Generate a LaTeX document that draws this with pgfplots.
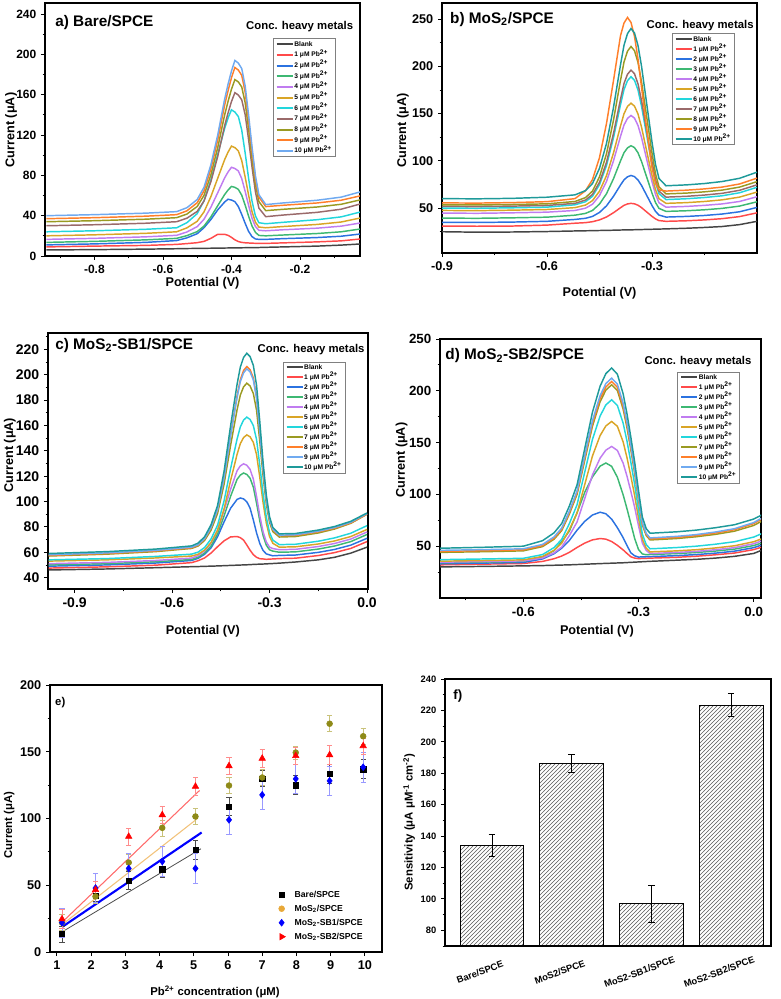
\documentclass[border=0pt]{standalone}
\usepackage{fontspec}
\setmainfont{Liberation Sans}
\usepackage{pgfplots}
\usepackage{pgfplotstable}
\pgfplotsset{compat=1.18}
\usetikzlibrary{patterns}

\newcommand\fs[1]{\fontsize{#1}{#1}\selectfont\bfseries}
\newcommand\pbe[1]{\addlegendentry{#1 μM Pb\textsuperscript{2+}}}

% trace colours
\definecolor{cBl}{HTML}{454545}
\definecolor{c1}{HTML}{FF4A4A}
\definecolor{c2}{HTML}{2B72E0}
\definecolor{c3}{HTML}{3DB873}
\definecolor{c4}{HTML}{C07CF0}
\definecolor{c5}{HTML}{D9A526}
\definecolor{c6}{HTML}{22D6DC}
\definecolor{cBr}{HTML}{9A6A6A}
\definecolor{cOl}{HTML}{9A9A22}
\definecolor{cOr}{HTML}{FF7F2A}
\definecolor{cLb}{HTML}{70AAF0}
\definecolor{cTe}{HTML}{1E9A9A}
% calibration colours
\definecolor{eOl}{HTML}{8E8A18}
\definecolor{eOlE}{HTML}{C9C27A}
\definecolor{eGold}{HTML}{E8A838}
\definecolor{eGoldLine}{HTML}{F2C27A}
\definecolor{eRedLine}{HTML}{FF6B6B}

% DPV traces: Bare/SPCE
\pgfplotstableread{
x bl c1 c2 c3 c4 c5 c6 c7 c8 c9 c10
-0.94 6 9 11 13.5 16.5 20 24 30 34 37 40
-0.80 6.3 9.8 12 14.5 17.5 21 25 31 35 38 41
-0.65 6.8 10.5 13.5 16 19 22.5 26.5 32.5 36.5 39.5 42.5
-0.56 7.2 11.5 15.3 17.5 20.5 24 28 34 38 41 44
-0.53 7.4 12.3 18 20.2 23.8 27.9 33 37.5 41.6 44.8 47.9
-0.50 7.5 13.2 22.1 24.2 29.1 34.4 42 44.2 49.1 52.8 56
-0.48 7.6 14.5 28.1 29.7 36.5 43.8 54.8 54.6 60.2 64.7 68.2
-0.46 7.7 17.5 36.2 38.8 48.4 58.9 75.6 73.7 80.6 86.4 90.5
-0.44 7.8 21.5 45.8 49.9 62.8 77.2 101 98.9 107.6 115.2 120.1
-0.42 7.9 21.5 53.5 60.9 77.4 95.5 126.4 129.1 139.8 149.5 155.4
-0.41 7.95 20.5 56.3 65.4 83.3 103 136.8 141.8 153.3 163.8 170.3
-0.40 8.0 18.5 55.5 69.0 88.0 109 145 153.2 165.4 176.8 183.5
-0.39 8.05 16 53.9 68.1 86.8 107.5 142.8 162 175 187 194
-0.38 8.1 14.3 49.1 66.1 84.4 104.3 138.4 159.7 172.7 184.5 191.4
-0.37 8.15 13.5 41.2 60.3 76.8 94.6 124.8 154.9 167.7 179.2 185.9
-0.36 8.2 13.1 32.4 50.4 64.1 78.3 102.1 140.2 152 162.6 168.7
-0.35 8.25 12.9 24.4 39.5 50.2 60.4 77.1 115.5 125.9 134.8 139.9
-0.34 8.3 12.7 19.2 29.7 37.4 44 54.4 88.3 97.1 104.2 108.3
-0.33 8.35 12.6 16.9 23.4 29.2 33.5 39.7 63.5 70.9 76.5 79.5
-0.32 8.4 12.5 16.5 20.4 25.5 28.7 33 47.5 54 58.5 60.9
-0.30 8.6 12.5 16.5 20 25 28 32 39 45 49 51
-0.25 9 13 17.2 20.8 26 29.2 33.4 40.6 46.3 50.3 52.6
-0.15 9.8 14 18.3 22.3 27.6 31.3 36 43.3 48.6 52.6 55.3
-0.08 10.8 15 19.6 24 29.6 33.7 38.8 46.4 51.3 55.3 58.4
-0.02 12 17 22 27 33 38 44 52 56 60 64
}\tabA

% DPV traces: MoS2/SPCE
\pgfplotstableread{
x bl c1 c2 c3 c4 c5 c6 c7 c8 c9 c10
-0.90 25 31 35 39.4 44.7 47.5 50 51.8 53.5 55.5 60
-0.80 24.5 30.8 34.8 39.2 44.5 47.3 49.8 51.6 53.3 55.3 59.8
-0.70 24.7 31 35.2 39.7 45 47.8 50.3 52.1 53.8 55.8 60.3
-0.60 25.2 32 36 40.4 45.7 48.5 51 52.8 54.5 56.8 61.5
-0.52 25.8 34 38 42.5 47.5 50.5 53.5 55 57 60 64
-0.49 26 34.6 39.2 44.4 49.9 53.2 56.7 58.5 61.1 68.4 68.5
-0.47 26.1 35.6 41.2 47.5 54.1 57.9 62.5 64.5 68 80.2 76
-0.45 26.3 37.5 45.4 54.3 63.2 67.9 74.8 77.3 83.1 103.4 92.1
-0.43 26.4 40.6 52.4 65.2 78.2 84.4 95 98.4 107.5 139.5 118.4
-0.41 26.6 45.1 62.5 81.1 100.1 108.4 124.5 129 143.1 185 156.5
-0.39 26.8 50.4 74.4 99.9 125.9 136.8 159.3 165.1 185.1 232.4 201.5
-0.38 26.9 52.9 79.9 108.6 137.9 149.8 175.4 181.8 204.5 245.8 222.3
-0.37 27 54.4 83.1 113.7 144.9 157.6 184.8 191.6 216 251.7 234.6
-0.36 27 55 84.5 116 148 161 189 196 221 246.4 240
-0.35 27.1 54.5 83.3 114 145.2 157.9 185.2 192.1 216.5 231.7 235.2
-0.34 27.2 53 79.7 108.5 137.4 149.5 174.9 181.4 204.1 207.7 222
-0.33 27.3 50.5 74 99.4 124.8 135.7 157.9 163.8 183.7 178.1 200.3
-0.32 27.4 47.4 66.9 88.2 109.2 118.6 137 142.2 158.7 148.5 173.5
-0.31 27.5 44.3 59.8 77 93.6 101.5 116.1 120.6 133.5 118.9 146.6
-0.30 27.6 41.2 52.7 65.8 78 84.5 95.2 98.9 108.3 93 119.8
-0.29 27.7 38.6 46.5 55.9 64.4 69.6 76.9 80 86.4 76.5 96.3
-0.28 27.8 36.8 42.6 49.7 55.6 60 65.2 67.9 72.4 69.3 81.3
-0.26 28 36 40.5 46.5 51 55 59 61.6 65 68 73.6
-0.20 28.7 36.6 41.2 47.2 51.8 55.8 59.9 62.5 65.9 69 74.6
-0.15 29.5 37.5 42.2 48.2 52.9 57 61.2 63.8 67.2 70.3 76
-0.10 30.5 38.8 43.7 49.7 54.4 58.7 63 65.6 69 72.2 78.1
-0.05 32.5 41 46.1 52.1 57 61.6 66.2 68.8 72.2 75.5 81.5
0.00 36 45 50.7 56.7 62 67 72 74.6 78 81.7 88
}\tabB

% DPV traces: MoS2-SB1/SPCE
\pgfplotstableread{
x bl c1 c2 c3 c4 c5 c6 c7 c8 c9 c10
-0.98 46 47.5 49 50 51 53 54 57 57.5 58 59
-0.80 46.8 48.5 50 51 52 54 55 58.5 59 59.5 60.5
-0.65 47.8 49.8 51.5 52.5 53.5 55.5 56.7 60.5 61 61.5 62.5
-0.54 48.6 51.8 53.5 54.3 55.4 57 58.5 63 63.5 64 65
-0.52 48.7 53.3 55.2 56 57.3 58.4 60.1 64.9 65.6 66 67.2
-0.50 48.9 55.5 58.4 59.4 61 61.7 63.7 69.3 70.4 70.8 72.2
-0.48 49 59.4 63.5 65 67.2 67.7 70.5 77.5 79.3 79.6 81.7
-0.46 49.2 64.4 72.3 74.6 77.6 77.3 81.4 90.6 93.7 93.7 97
-0.44 49.4 69 84 88.7 92.9 94.3 100.6 113.7 119.1 118.7 124
-0.42 49.6 72.1 94.7 104.1 109.7 116.6 125.9 144.3 152.6 151.7 159.7
-0.40 49.8 72.4 101.7 117.5 124.3 137.2 149.3 172.4 183.5 182 192.5
-0.39 49.9 71.5 102.8 120.9 128.1 145.7 158.9 184 196.2 194.6 206.1
-0.38 50 69.6 102.1 122.5 129.8 150.5 164.3 190.5 203.4 201.6 213.7
-0.37 50.1 65.7 99.8 121.4 128.6 152.6 166.6 193.4 206.5 204.7 217
-0.36 50.2 61.6 94.8 118.4 125.4 151.1 164.8 191.2 204.1 202.3 214.4
-0.35 50.4 58.1 85.5 111.4 117.8 146.7 160 185.3 197.6 196 207.5
-0.34 50.5 56 75.2 98.7 104 137 148.9 172 182.8 181.5 191.7
-0.33 50.6 54.9 66.9 84.7 88.7 119 128.4 147.3 155.8 154.9 162.9
-0.32 50.7 54.7 61.4 73.2 76.2 99.2 106 120.2 126 125.6 131.1
-0.31 50.8 54.4 58.7 65.6 68.1 83.1 87.6 98.1 101.7 101.7 105.2
-0.30 51 54.6 57.9 61.9 64 72.3 75.5 83.5 85.6 85.9 88
-0.29 51.1 54.7 57.2 60.9 62.9 67.1 69.6 76.3 77.8 78.2 79.6
-0.27 51.4 55 57.5 60 62 64 66 72 73 73.5 74.5
-0.22 52.3 55.3 57.8 60.3 62.3 64.3 66.3 72.4 73.3 73.8 74.8
-0.15 54 57.4 59.9 62.5 64.5 66.5 68.7 75.2 76.1 76.6 77.5
-0.10 56 59.7 62.2 64.9 66.9 68.9 71.3 78.3 79 79.5 80.3
-0.05 59.3 63 65.6 68.4 70.4 72.4 75 82.8 83.2 83.7 84.4
0.00 64 68.4 71 74 76 78 81 90 90 90.5 91
}\tabC

% DPV traces: MoS2-SB2/SPCE
\pgfplotstableread{
x bl c1 c2 c3 c4 c5 c6 c7 c8 c9 c10
-0.82 30 32 33 34 34.5 35.5 37 44 45 46 48
-0.70 30.5 32.7 33.7 34.7 35.2 36.2 37.7 44.7 45.7 46.7 49
-0.60 31 33.3 34.3 35.3 35.8 36.8 38.3 45.5 46.5 47.5 50
-0.55 31.3 35.3 37.7 39.6 38.6 40.1 41.9 49.6 50.6 51.7 55.3
-0.52 31.6 37.9 42.7 45.7 43.5 46 48.7 56.7 57.8 59 62.9
-0.50 31.8 40.5 48.1 54.4 49.3 52.9 56.6 65.1 66.3 67.5 71.9
-0.48 32 44.1 55.6 64.7 60.3 66.2 71.9 81.1 82.5 84 88.9
-0.46 32.3 48.8 65.5 82.4 73.4 82.1 90.1 100.1 101.8 103.5 109.3
-0.44 32.6 53 74 102 96.1 109.6 121.6 132.9 135.1 137.3 144.3
-0.42 32.9 56.1 80.1 116.9 118.7 137 153 165.8 168.5 171.1 179.3
-0.40 33.2 57.4 82.8 127.3 135 156.8 175.7 189.5 192.5 195.4 204.5
-0.385 33.4 56.8 81.3 130.3 142.7 166.1 186.4 200.7 203.8 207 216.6
-0.37 33.6 54.5 76.1 127.1 146.3 170.4 191.3 205.8 209 212.2 222
-0.355 33.8 50.8 67.8 116.5 142.4 165.7 185.8 200.2 203.3 206.4 216
-0.34 34 46.4 58.2 99.5 130.1 150.6 168.7 182.3 185.1 188 197
-0.33 34.2 43 50.6 86.1 117.6 135.4 151.4 164.3 166.9 169.5 177.8
-0.32 34.4 39.8 43.6 71.8 103 117.7 131.1 143.2 145.4 147.7 155.3
-0.31 34.6 38.5 40.7 57.4 87.5 98.7 109.4 120.5 122.4 124.4 131.2
-0.30 34.8 38 39.5 46.8 69.8 77.1 84.8 94.8 96.4 98 103.8
-0.29 35 38.2 39.7 42.5 53.1 56.8 61.6 70.6 71.8 73.1 78.1
-0.28 35.2 38.3 39.8 41.8 46 48.1 51.6 60.3 61.4 62.4 67
-0.27 35.4 38.5 40 42 43 44.5 47.5 56 57 58 62.5
-0.25 35.7 38.7 40.2 42.2 43.2 44.8 47.8 56.4 57.4 58.4 62.9
-0.20 36.5 39.3 40.9 42.9 44 45.5 48.7 57.4 58.5 59.5 63.9
-0.15 37.3 40.3 41.9 43.9 45 46.6 50 59.1 60.2 61.2 65.5
-0.10 38.5 41.7 43.3 45.3 46.6 48.3 51.9 61.4 62.7 63.7 67.8
-0.05 40.2 43.4 45.2 47.2 48.6 50.4 54.3 64.5 65.9 66.9 70.7
0.00 43 46.7 48.6 50.6 52.4 54.3 58.8 70 71.8 72.8 76.2
0.02 46 49 51 53 55 57 62 74 76 77 80
}\tabD

\pgfplotsset{
  panelframe/.style={
    scale only axis, anchor=south west,
    axis line style={line width=0.8pt},
    tick align=outside, tick pos=left,
    major tick length=3pt, minor tick length=1.8pt,
    every tick/.append style={line width=0.6pt, black},
    /pgf/number format/assume math mode=true,
    label style={font=\fs{9.5}},
  },
  cvpanel/.style={
    panelframe,
    xlabel={Potential (V)}, ylabel={Current (μA)},
    xticklabel style={/pgf/number format/.cd, fixed, fixed zerofill, precision=1},
    legend cell align=left,
    legend image code/.code={\draw[##1, line width=1.5pt] (0pt,0pt) -- (12pt,0pt);},
    legend style={anchor=north west, draw=gray, line width=0.5pt, font=\fs{5},
      row sep=2.3pt, inner xsep=2pt, inner ysep=1.5pt,
      nodes={inner sep=0.5pt, text height=3.6pt, text depth=0.6pt}},
  },
  cv/.style={no marks, line width=1.1pt},
  marklegend/.style={
    legend image code/.code={\draw[##1] plot coordinates {(5pt,0pt)}; \path (0pt,0pt) (14pt,0pt);},
  },
}

\begin{document}
\begin{tikzpicture}
\path[use as bounding box] (0,0) rectangle (585.75pt,749.25pt);

% ---------------- a) Bare/SPCE ----------------
\begin{axis}[cvpanel, at={(33.75pt,557.25pt)}, width=236.25pt, height=189.75pt,
  xmin=-0.944, xmax=-0.025, ymin=0, ymax=251,
  xtick={-0.8,-0.6,-0.4,-0.2}, minor xtick={-0.9,-0.7,-0.5,-0.3,-0.1},
  ytick={0,40,...,240}, minor ytick={20,60,...,220},
  tick label style={font=\fs{9}},
  xlabel style={at={(axis description cs:0.5,-0.107)}, anchor=center},
  ylabel style={at={(axis description cs:-0.108,0.498)}, anchor=center},
  legend style={at={(0.723,0.86)}, row sep=2.8pt}]
\addplot[cv, cBl] table[x=x, y=bl] {\tabA}; \addlegendentry{Blank}
\addplot[cv, c1] table[x=x, y=c1] {\tabA}; \pbe{1}
\addplot[cv, c2] table[x=x, y=c2] {\tabA}; \pbe{2}
\addplot[cv, c3] table[x=x, y=c3] {\tabA}; \pbe{3}
\addplot[cv, c4] table[x=x, y=c4] {\tabA}; \pbe{4}
\addplot[cv, c5] table[x=x, y=c5] {\tabA}; \pbe{5}
\addplot[cv, c6] table[x=x, y=c6] {\tabA}; \pbe{6}
\addplot[cv, cBr] table[x=x, y=c7] {\tabA}; \pbe{7}
\addplot[cv, cOl] table[x=x, y=c8] {\tabA}; \pbe{8}
\addplot[cv, cOr] table[x=x, y=c9] {\tabA}; \pbe{9}
\addplot[cv, cLb] table[x=x, y=c10] {\tabA}; \pbe{10}
\node[anchor=north west, inner sep=0pt, font=\fs{11.5}] at (rel axis cs:0.032,0.953) {a) Bare/SPCE};
\node[anchor=north east, inner sep=0pt, font=\fs{8.5}] at (rel axis cs:0.979,0.93) {Conc. heavy metals};
\end{axis}

% ---------------- b) MoS2/SPCE ----------------
\begin{axis}[cvpanel, at={(331.5pt,559.5pt)}, width=236.25pt, height=187.5pt,
  xmin=-0.9, xmax=0, ymin=2.5, ymax=267,
  xtick={-0.9,-0.6,-0.3}, minor xtick={-0.75,-0.45,-0.15},
  ytick={50,100,...,250}, minor ytick={25,75,...,225},
  tick label style={font=\fs{9.5}},
  xlabel style={at={(axis description cs:0.5,-0.16)}, anchor=center},
  ylabel style={at={(axis description cs:-0.124,0.49)}, anchor=center},
  legend style={at={(0.729,0.879)}}]
\addplot[cv, cBl] table[x=x, y=bl] {\tabB}; \addlegendentry{Blank}
\addplot[cv, c1] table[x=x, y=c1] {\tabB}; \pbe{1}
\addplot[cv, c2] table[x=x, y=c2] {\tabB}; \pbe{2}
\addplot[cv, c3] table[x=x, y=c3] {\tabB}; \pbe{3}
\addplot[cv, c4] table[x=x, y=c4] {\tabB}; \pbe{4}
\addplot[cv, c5] table[x=x, y=c5] {\tabB}; \pbe{5}
\addplot[cv, c6] table[x=x, y=c6] {\tabB}; \pbe{6}
\addplot[cv, cBr] table[x=x, y=c7] {\tabB}; \pbe{7}
\addplot[cv, cOl] table[x=x, y=c8] {\tabB}; \pbe{8}
\addplot[cv, cOr] table[x=x, y=c9] {\tabB}; \pbe{9}
\addplot[cv, cTe] table[x=x, y=c10] {\tabB}; \pbe{10}
\node[anchor=north west, inner sep=0pt, font=\fs{11.5}] at (rel axis cs:0.025,0.964) {b) MoS\textsubscript{2}/SPCE};
\node[anchor=north east, inner sep=0pt, font=\fs{8.5}] at (rel axis cs:0.99,0.932) {Conc. heavy metals};
\end{axis}

% ---------------- c) MoS2-SB1/SPCE ----------------
\begin{axis}[cvpanel, at={(36pt,307.5pt)}, width=240pt, height=192pt,
  xmin=-0.982, xmax=0.003, ymin=31, ymax=233,
  xtick={-0.9,-0.6,-0.3,0}, minor xtick={-0.75,-0.45,-0.15},
  ytick={40,60,...,220}, minor ytick={50,70,...,230},
  tick label style={font=\fs{10.5}},
  xlabel style={at={(axis description cs:0.484,-0.164)}, anchor=center},
  ylabel style={at={(axis description cs:-0.119,0.523)}, anchor=center},
  legend style={at={(0.733,0.888)}}]
\addplot[cv, cBl] table[x=x, y=bl] {\tabC}; \addlegendentry{Blank}
\addplot[cv, c1] table[x=x, y=c1] {\tabC}; \pbe{1}
\addplot[cv, c2] table[x=x, y=c2] {\tabC}; \pbe{2}
\addplot[cv, c3] table[x=x, y=c3] {\tabC}; \pbe{3}
\addplot[cv, c4] table[x=x, y=c4] {\tabC}; \pbe{4}
\addplot[cv, c5] table[x=x, y=c5] {\tabC}; \pbe{5}
\addplot[cv, c6] table[x=x, y=c6] {\tabC}; \pbe{6}
\addplot[cv, cOl] table[x=x, y=c7] {\tabC}; \pbe{7}
\addplot[cv, cOr] table[x=x, y=c8] {\tabC}; \pbe{8}
\addplot[cv, cLb] table[x=x, y=c9] {\tabC}; \pbe{9}
\addplot[cv, cTe] table[x=x, y=c10] {\tabC}; \pbe{10}
\node[anchor=north west, inner sep=0pt, font=\fs{11.5}] at (rel axis cs:0.022,0.98) {c) MoS\textsubscript{2}-SB1/SPCE};
\node[anchor=north east, inner sep=0pt, font=\fs{8.5}] at (rel axis cs:0.99,0.957) {Conc. heavy metals};
\end{axis}

% ---------------- d) MoS2-SB2/SPCE ----------------
\begin{axis}[cvpanel, at={(330pt,300.75pt)}, width=240.75pt, height=194.25pt,
  xmin=-0.817, xmax=0.019, ymin=0, ymax=250,
  xtick={-0.6,-0.3,0}, minor xtick={-0.75,-0.45,-0.15},
  ytick={50,100,...,250}, minor ytick={25,75,...,225},
  tick label style={font=\fs{10}},
  xlabel style={at={(axis description cs:0.489,-0.127)}, anchor=center},
  ylabel style={at={(axis description cs:-0.12,0.533)}, anchor=center},
  legend style={at={(0.739,0.874)}}]
\addplot[cv, cBl] table[x=x, y=bl] {\tabD}; \addlegendentry{Blank}
\addplot[cv, c1] table[x=x, y=c1] {\tabD}; \pbe{1}
\addplot[cv, c2] table[x=x, y=c2] {\tabD}; \pbe{2}
\addplot[cv, c3] table[x=x, y=c3] {\tabD}; \pbe{3}
\addplot[cv, c4] table[x=x, y=c4] {\tabD}; \pbe{4}
\addplot[cv, c5] table[x=x, y=c5] {\tabD}; \pbe{5}
\addplot[cv, c6] table[x=x, y=c6] {\tabD}; \pbe{6}
\addplot[cv, cOl] table[x=x, y=c7] {\tabD}; \pbe{7}
\addplot[cv, cOr] table[x=x, y=c8] {\tabD}; \pbe{8}
\addplot[cv, cLb] table[x=x, y=c9] {\tabD}; \pbe{9}
\addplot[cv, cTe] table[x=x, y=c10] {\tabD}; \pbe{10}
\node[anchor=north west, inner sep=0pt, font=\fs{11.5}] at (rel axis cs:0.016,0.964) {d) MoS\textsubscript{2}-SB2/SPCE};
\node[anchor=north east, inner sep=0pt, font=\fs{8.5}] at (rel axis cs:0.971,0.934) {Conc. heavy metals};
\end{axis}

% ---------------- e) calibration ----------------
\begin{axis}[panelframe, marklegend, at={(37.5pt,35.25pt)}, width=249pt, height=200.25pt,
  xmin=0.8, xmax=10.5, ymin=0, ymax=200,
  xtick={1,...,10}, ytick={0,50,...,200}, minor ytick={25,75,...,175},
  tick label style={font=\fs{9.5}},
  xlabel={Pb\textsuperscript{2+} concentration (μM)}, ylabel={Current (μA)},
  label style={font=\fs{8.5}},
  xlabel style={at={(axis description cs:0.497,-0.149)}, anchor=center},
  ylabel style={at={(axis description cs:-0.123,0.476)}, anchor=center},
  legend cell align=left,
  legend style={draw=none, fill=none, at={(0.664,0.243)}, anchor=north west, font=\fs{6.5},
    row sep=3.5pt, nodes={inner sep=0.5pt, text height=4.8pt, text depth=1.2pt}}]
\addlegendimage{only marks, mark=square*, mark size=2pt, black}
\addlegendentry{Bare/SPCE}
\addlegendimage{only marks, mark=*, mark size=2.2pt, eGold}
\addlegendentry{MoS\textsubscript{2}/SPCE}
\addlegendimage{only marks, mark=diamond*, mark size=2.6pt, blue}
\addlegendentry{MoS\textsubscript{2}-SB1/SPCE}
\addlegendimage{only marks, mark=triangle*, mark size=2.8pt, red, mark options={rotate=-90}}
\addlegendentry{MoS\textsubscript{2}-SB2/SPCE}
% linear fits over 1-5 uM
\addplot[forget plot, black!70, line width=0.6pt] coordinates {(1.15,15) (5.21,77.3)};
\addplot[forget plot, eGoldLine, line width=0.8pt] coordinates {(1.15,20.4) (5.12,100.2)};
\addplot[forget plot, blue, line width=1.6pt] coordinates {(1.15,18.7) (5.23,89.5)};
\addplot[forget plot, eRedLine, line width=0.8pt] coordinates {(1.15,22.2) (5.17,121)};
% measured points
\addplot[forget plot, only marks, mark=square*, mark size=2pt, black,
  error bars/.cd, y dir=both, y explicit,
  error bar style={black!70, line width=0.5pt},
  error mark options={rotate=90, mark size=2pt, black!70, line width=0.5pt}]
  coordinates {(1.15,13.5) +- (0,6) (2.13,42) +- (0,4) (3.1,53.6) +- (0,7) (4.08,62) +- (0,6)
    (5.05,76.6) +- (0,7) (6.03,109) +- (0,7) (7.0,130) +- (0,6) (7.98,125) +- (0,7)
    (8.97,133.4) +- (0,7) (9.95,137) +- (0,7)};
\addplot[forget plot, only marks, mark=*, mark size=2.2pt, eOl,
  error bars/.cd, y dir=both, y explicit,
  error bar style={eOlE, line width=0.5pt},
  error mark options={rotate=90, mark size=2pt, eOlE, line width=0.5pt}]
  coordinates {(1.15,22) +- (0,6) (2.13,41.6) +- (0,5) (3.1,67) +- (0,6) (4.08,93) +- (0,6)
    (5.05,101.5) +- (0,6) (6.03,124.7) +- (0,6) (7.0,130.7) +- (0,6) (7.98,149.4) +- (0,5)
    (8.97,171) +- (0,6) (9.95,161.6) +- (0,6)};
\addplot[forget plot, only marks, mark=diamond*, mark size=2.6pt, blue,
  error bars/.cd, y dir=both, y explicit,
  error bar style={blue!40, line width=0.5pt},
  error mark options={rotate=90, mark size=2pt, blue!40, line width=0.5pt}]
  coordinates {(1.15,22) +- (0,11) (2.13,47.9) +- (0,11) (3.1,62.6) +- (0,11) (4.08,67.8) +- (0,11)
    (5.05,62.6) +- (0,11) (6.03,99) +- (0,11) (7.0,117.7) +- (0,11) (7.98,129.7) +- (0,11)
    (8.97,128.2) +- (0,11) (9.95,138.4) +- (0,11)};
\addplot[forget plot, only marks, mark=triangle*, mark size=2.8pt, red,
  error bars/.cd, y dir=both, y explicit,
  error bar style={red!45, line width=0.5pt},
  error mark options={rotate=90, mark size=2pt, red!45, line width=0.5pt}]
  coordinates {(1.15,24.7) +- (0,7) (2.13,46.6) +- (0,6) (3.1,86.5) +- (0,6.5) (4.08,102.7) +- (0,6.5)
    (5.05,124) +- (0,6.5) (6.03,139.4) +- (0,6.5) (7.0,145) +- (0,6.5) (7.98,147) +- (0,6.5)
    (8.97,147.6) +- (0,7) (9.95,154.4) +- (0,6)};
\node[anchor=north west, inner sep=0pt, font=\fs{8.5}] at (rel axis cs:0.015,0.955) {e)};
\end{axis}

% ---------------- f) sensitivity ----------------
\begin{axis}[panelframe, at={(333.75pt,39.75pt)}, width=244.5pt, height=200.25pt,
  xmin=-0.59, xmax=3.5, ymin=70, ymax=240,
  xtick={0,1,2,3},
  xticklabels={Bare/SPCE,MoS2/SPCE,MoS2-SB1/SPCE,MoS2-SB2/SPCE},
  xtick style={draw=none},
  ytick={80,100,...,240}, minor ytick={70,90,...,230},
  yticklabel style={font=\fs{7}},
  xticklabel style={font=\fs{7}, xshift=-9pt, yshift=-16.5pt, rotate=20, anchor=center},
  ylabel={Sensitivity (μA μM\textsuperscript{-1} cm\textsuperscript{-2})},
  ylabel style={at={(axis description cs:-0.11,0.464)}, anchor=center, font=\fs{8.5}}]
\addplot[ybar, bar width=0.8, bar shift=0pt, draw=black, line width=0.8pt,
  pattern=north east lines, pattern color=black!65]
  coordinates {(0,134) (1,186) (2,97) (3,223.3)};
\addplot[draw=none, mark=none,
  error bars/.cd, y dir=both, y explicit,
  error bar style={draw=black, solid, line width=0.6pt},
  error mark options={rotate=90, mark size=2.5pt, black, line width=0.6pt}]
  coordinates {(0,134) +- (0,7) (1,186) +- (0,5.7) (2,97) +- (0,11.8) (3,223.3) +- (0,7.3)};
\node[anchor=north west, inner sep=0pt, font=\fs{10}] at (rel axis cs:0.025,0.959) {f)};
\end{axis}
\end{tikzpicture}
\end{document}
